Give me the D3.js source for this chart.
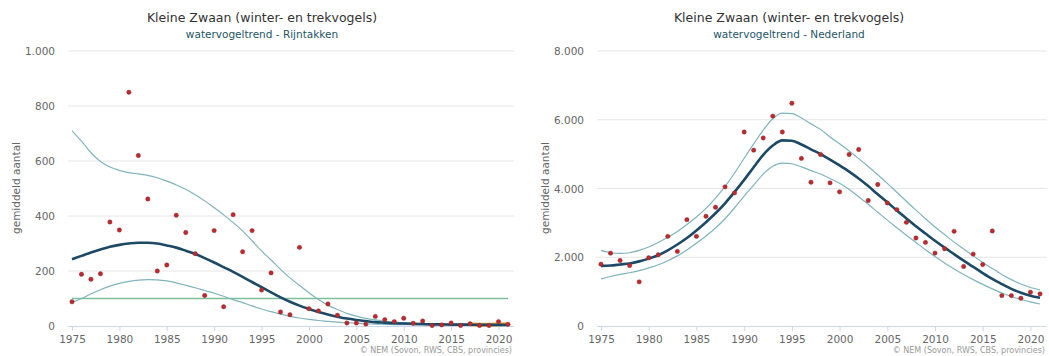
<!DOCTYPE html>
<html>
<head>
<meta charset="utf-8">
<script src="https://cdn.jsdelivr.net/npm/d3@7"></script>
<style>
  body { margin: 0; background: #fff; }
  svg { display: block; font-family: "DejaVu Sans", sans-serif; }
</style>
</head>
<body>
<div id="chart"></div>
<script>
// years shared by both panels
const years = d3.range(1975, 2022);

// --- Rijntakken ---
const rijnCounts = [88, 188, 170, 190, 378, 349, 850, 620, 462, 200, 222, 403, 340, 263, 111, 347, 70, 405, 270, 347,
  131, 193, 51, 41, 286, 63, 55, 80, 39, 11, 11, 7, 35, 23, 16, 28, 10, 18, 2, 4, 11, 2, 8, 2, 2, 16, 6];
const rijnTrend = [243, 255, 267, 278, 288, 295, 300, 303, 303, 300, 293, 285, 274, 262, 247, 231, 214, 197, 179, 160,
  141, 122, 104, 88, 74, 62, 51, 42, 34, 27, 22, 18, 14, 12, 10, 9, 8, 7, 6, 6, 5, 5, 5, 4, 4, 4, 4];
const rijnUpper = [710, 672, 630, 598, 578, 566, 558, 553, 548, 539, 527, 513, 497, 477, 455, 430, 404, 376, 346, 310,
  273, 240, 206, 175, 147, 121, 96, 76, 60, 46, 36, 28, 22, 17, 14, 12, 10, 9, 8, 7, 7, 7, 6, 6, 6, 6, 6];
const rijnLower = [85, 100, 117, 132, 145, 155, 162, 167, 169, 168, 164, 157, 148, 139, 129, 119, 108, 96, 85, 73,
  62, 52, 43, 35, 29, 24, 20, 17, 14, 12, 10, 8, 7, 6, 5, 5, 4, 4, 4, 4, 3, 3, 3, 3, 3, 3, 3];
const rijnNorm = 100;                       // horizontal green reference line
const rijnRecentYears = [2017, 2018, 2019, 2020, 2021];
const rijnRecent = [6, 5, 5, 6, 6];         // orange segment
const rijnTicks = [0, 200, 400, 600, 800, 1000];

// --- Nederland ---
const nlCounts = [1800, 2120, 1907, 1761, 1284, 1985, 2072, 2608, 2170, 3094, 2608, 3191, 3454, 4048, 3873, 5644, 5115,
  5471, 6106, 5644, 6481, 4875, 4184, 4990, 4164, 3902, 4990, 5134, 3649, 4116, 3580, 3386, 3016, 2559, 2433, 2121,
  2248, 2754, 1732, 2092, 1790, 2763, 885, 885, 808, 983, 934];
const nlTrend = [1750, 1760, 1790, 1820, 1880, 1960, 2060, 2200, 2370, 2560, 2780, 3020, 3280, 3570, 3900, 4250, 4620,
  4980, 5250, 5400, 5390, 5280, 5140, 5000, 4840, 4670, 4490, 4290, 4070, 3830, 3600, 3360, 3130, 2900, 2690, 2480,
  2280, 2090, 1900, 1720, 1540, 1370, 1220, 1080, 970, 880, 820];
const nlUpper = [2200, 2130, 2110, 2130, 2200, 2300, 2430, 2580, 2750, 2950, 3170, 3420, 3720, 4060, 4450, 4880, 5300,
  5700, 6030, 6190, 6180, 6050, 5880, 5720, 5500, 5300, 5090, 4870, 4640, 4400, 4150, 3890, 3630, 3370, 3120, 2880,
  2660, 2440, 2240, 2040, 1850, 1670, 1500, 1350, 1220, 1120, 1050];
const nlLower = [1370, 1440, 1500, 1550, 1610, 1690, 1780, 1900, 2040, 2210, 2410, 2620, 2850, 3120, 3440, 3780, 4100,
  4420, 4650, 4740, 4720, 4630, 4520, 4420, 4290, 4150, 3970, 3760, 3540, 3310, 3080, 2860, 2640, 2430, 2220, 2020,
  1830, 1660, 1500, 1350, 1210, 1080, 960, 860, 770, 700, 640];
const nlTicks = [0, 2000, 4000, 6000, 8000];

const xTicks = d3.range(1975, 2021, 5);
const title = 'Kleine Zwaan (winter- en trekvogels)';
const credit = '\u00a9 NEM (Sovon, RWS, CBS, provincies)';

const W = 1049, H = 356;
const svg = d3.select('#chart').append('svg').attr('width', W).attr('height', H);

const fmt = v => d3.format(',')(v).replace(/,/g, '.');

function drawPanel(opt) {
  const g = svg.append('g');
  const x = d3.scaleLinear().domain([1975, 2021]).range([opt.x0, opt.x1]);
  const y = d3.scaleLinear().domain([0, d3.max(opt.ticks)]).range([326, 51]);

  g.append('text').attr('x', opt.cx).attr('y', 22).attr('text-anchor', 'middle')
    .attr('font-size', 12.5).attr('fill', '#333').text(title);
  g.append('text').attr('x', opt.cx).attr('y', 38).attr('text-anchor', 'middle')
    .attr('font-size', 10.5).attr('fill', '#1f5566').text(opt.subtitle);

  // grid
  g.selectAll('line.grid').data(opt.ticks.filter(t => t > 0)).join('line')
    .attr('class', 'grid')
    .attr('x1', opt.gx0).attr('x2', opt.gx1)
    .attr('y1', d => y(d)).attr('y2', d => y(d))
    .attr('stroke', '#e6e6e6').attr('stroke-width', 1);

  g.selectAll('text.ylab').data(opt.ticks).join('text')
    .attr('class', 'ylab')
    .attr('x', opt.gx0 - 13).attr('y', d => y(d) + 4)
    .attr('text-anchor', 'end').attr('font-size', 10.5).attr('fill', '#666')
    .text(fmt);

  g.append('text')
    .attr('transform', `translate(${opt.gx0 - 48},${188}) rotate(-90)`)
    .attr('text-anchor', 'middle').attr('font-size', 10.5).attr('fill', '#666')
    .text('gemiddeld aantal');

  // x axis
  const xAxis = g.append('g').attr('transform', 'translate(0,326)')
    .call(d3.axisBottom(x).tickValues(xTicks).tickFormat(d3.format('d')).tickSize(5).tickSizeOuter(0));
  xAxis.select('.domain').attr('stroke', '#ccd6eb').attr('d', `M${opt.gx0},0.5H${opt.gx1}`);
  xAxis.selectAll('.tick line').attr('stroke', '#ccd6eb');
  xAxis.selectAll('.tick text').attr('fill', '#666').attr('font-size', 10.5).attr('dy', '0.9em')
    .attr('font-family', '"DejaVu Sans", sans-serif');

  const line = d3.line().x((d, i) => x(years[i])).y(d => y(d)).curve(d3.curveMonotoneX);

  if (opt.norm != null) {
    g.append('line').attr('x1', x(1975)).attr('x2', x(2021))
      .attr('y1', y(opt.norm)).attr('y2', y(opt.norm))
      .attr('stroke', '#7cbf98').attr('stroke-width', 1.5);
  }

  g.append('path').datum(opt.upper).attr('d', line)
    .attr('fill', 'none').attr('stroke', '#7fb4bd').attr('stroke-width', 1.2);
  g.append('path').datum(opt.lower).attr('d', line)
    .attr('fill', 'none').attr('stroke', '#7fb4bd').attr('stroke-width', 1.2);

  if (opt.recent) {
    const rl = d3.line().x((d, i) => x(opt.recentYears[i])).y(d => y(d));
    g.append('path').datum(opt.recent).attr('d', rl)
      .attr('fill', 'none').attr('stroke', '#f5a623').attr('stroke-width', 4).attr('opacity', 0.9);
  }

  g.append('path').datum(opt.trend).attr('d', line)
    .attr('fill', 'none').attr('stroke', '#1b4966').attr('stroke-width', 2.6);

  g.selectAll('circle.pt').data(opt.counts).join('circle')
    .attr('class', 'pt')
    .attr('cx', (d, i) => x(years[i])).attr('cy', d => y(d)).attr('r', 2.2)
    .attr('fill', '#c0282e').attr('stroke', '#7a2a2a').attr('stroke-width', 0.4);

  g.append('text').attr('x', opt.gx1 - 2).attr('y', 353).attr('text-anchor', 'end')
    .attr('font-size', 8).attr('fill', '#999').text(credit);
}

drawPanel({
  x0: 72, x1: 508, gx0: 68, gx1: 514, cx: 262,
  subtitle: 'watervogeltrend - Rijntakken',
  ticks: rijnTicks, counts: rijnCounts, trend: rijnTrend, upper: rijnUpper, lower: rijnLower,
  norm: rijnNorm, recent: rijnRecent, recentYears: rijnRecentYears
});

drawPanel({
  x0: 601, x1: 1040, gx0: 597, gx1: 1047, cx: 789,
  subtitle: 'watervogeltrend - Nederland',
  ticks: nlTicks, counts: nlCounts, trend: nlTrend, upper: nlUpper, lower: nlLower
});
</script>
</body>
</html>
